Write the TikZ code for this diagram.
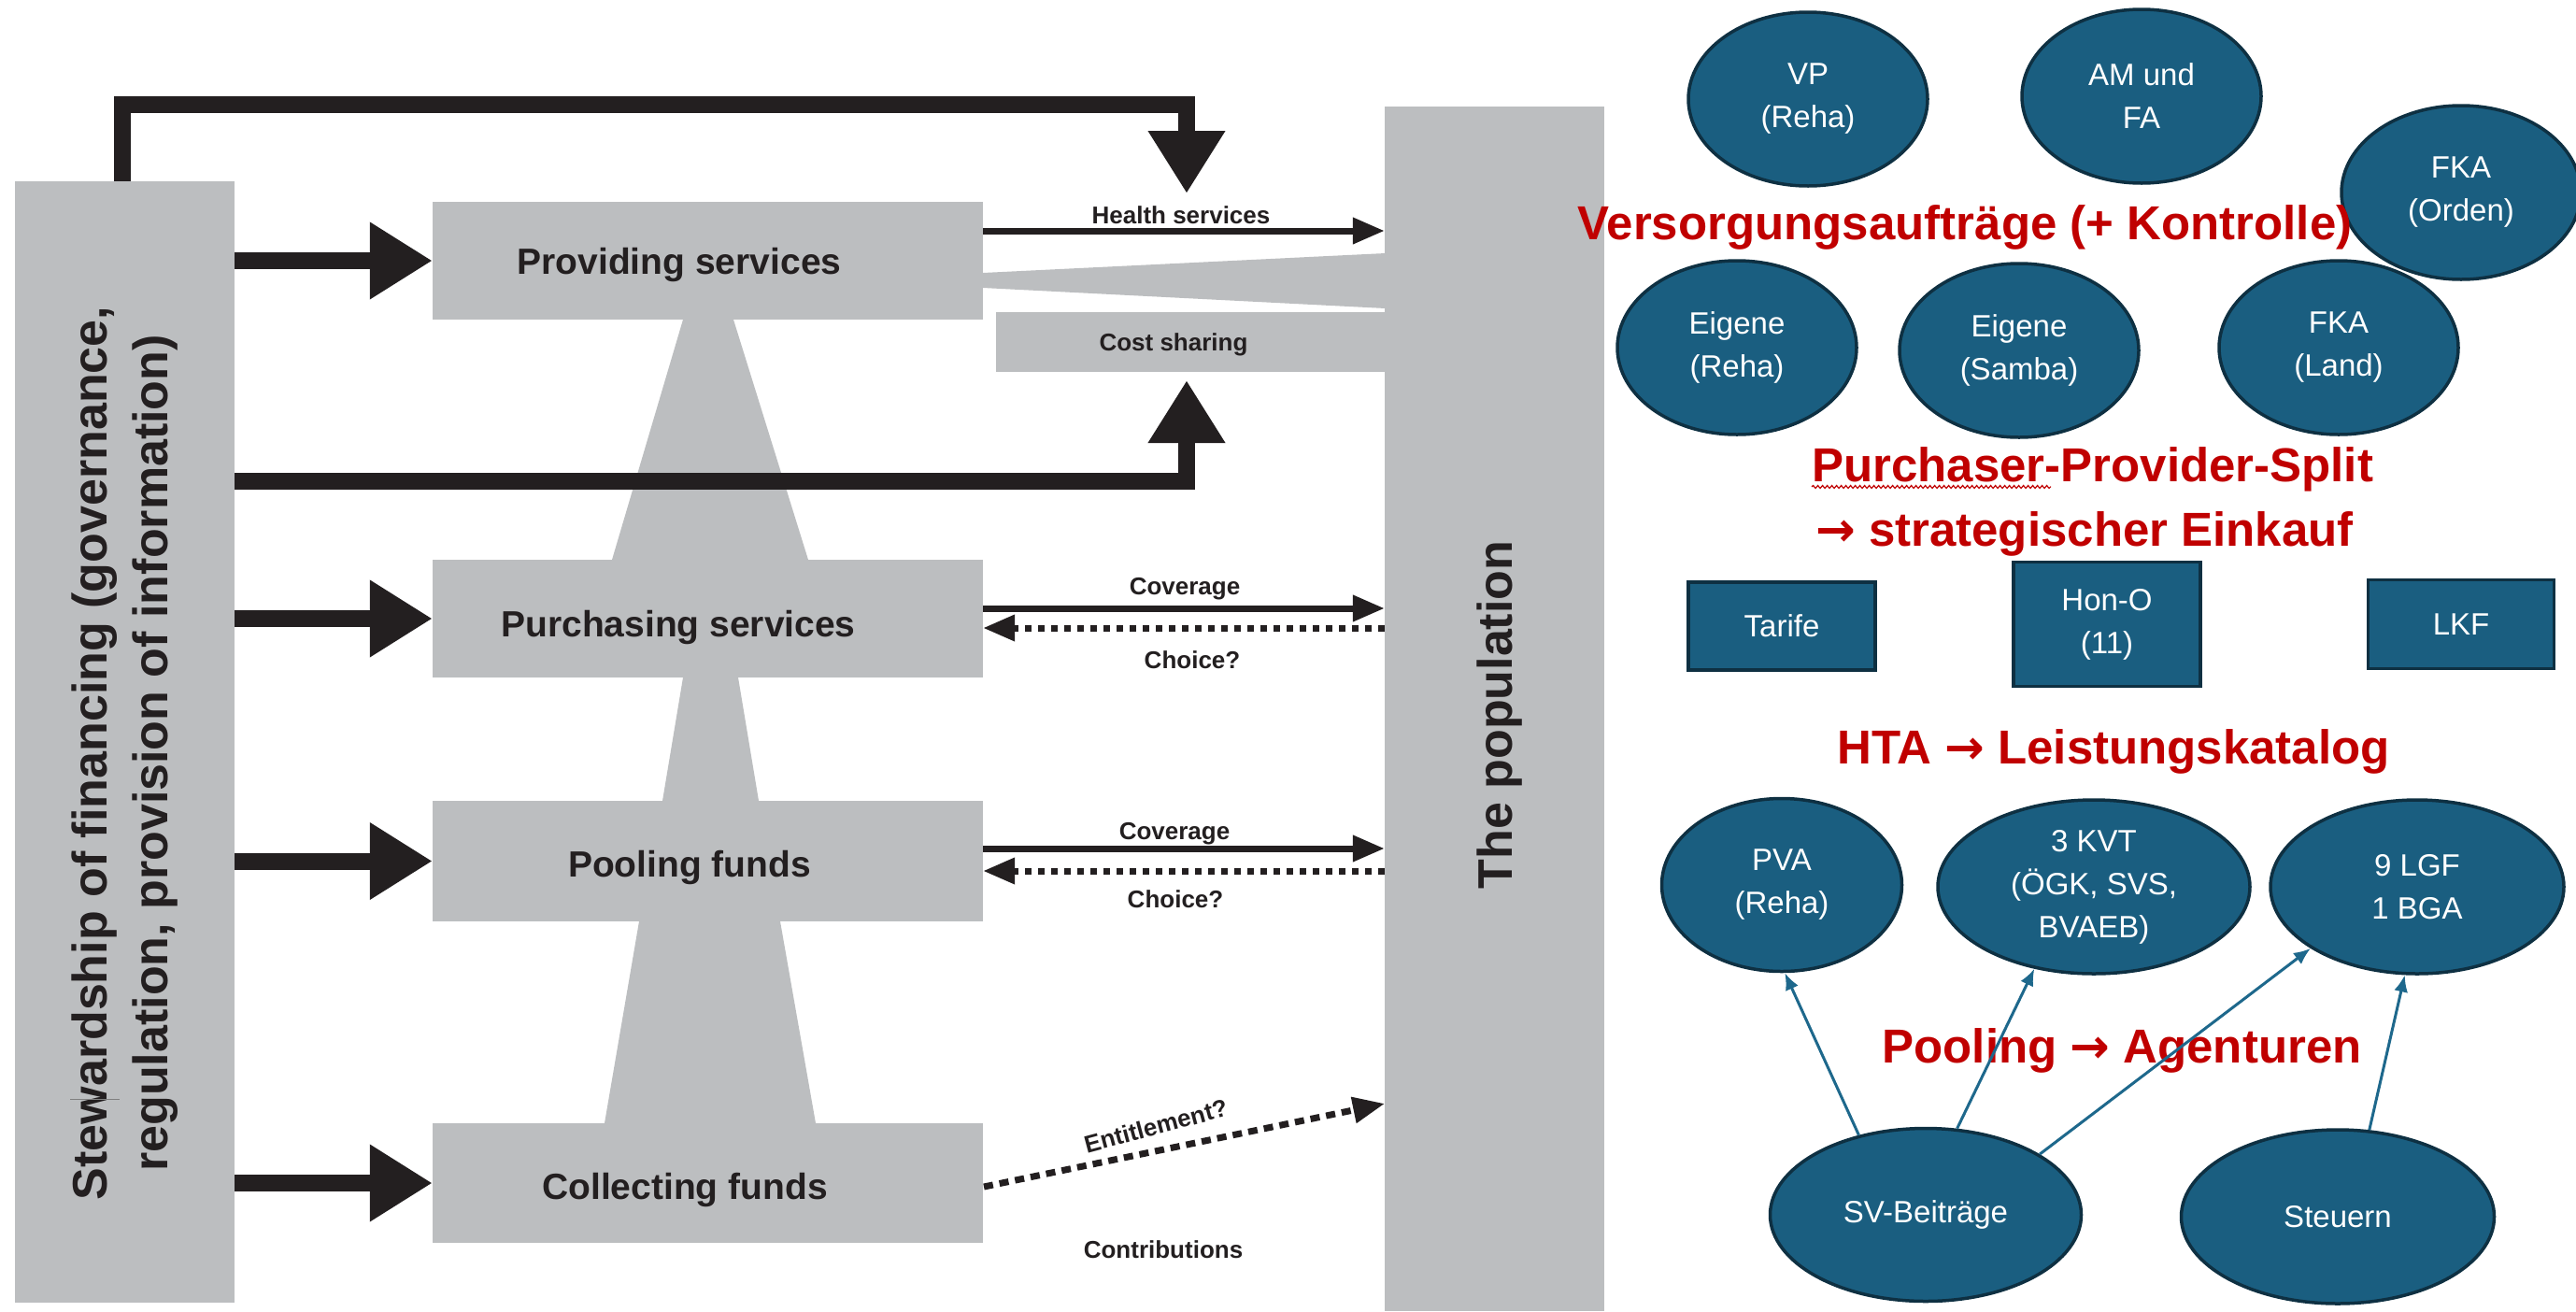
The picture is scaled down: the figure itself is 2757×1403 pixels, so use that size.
\documentclass[tikz,border=0pt]{standalone}
\usepackage{fontspec}
\setmainfont{Liberation Sans}
\newfontfamily\arrowfont{DejaVu Sans}
\newcommand{\bigarr}{{\arrowfont\bfseries →}}
\usetikzlibrary{arrows.meta,shapes.geometric,decorations.pathmorphing}
\definecolor{boxgray}{RGB}{188,190,192}
\definecolor{ink}{RGB}{35,31,32}
\definecolor{tealfill}{RGB}{26,94,128}
\definecolor{tealline}{RGB}{14,48,66}
\definecolor{tealarrow}{RGB}{30,104,140}
\definecolor{redtxt}{RGB}{192,0,0}
\begin{document}
\begin{tikzpicture}[x=1pt,y=-1pt,
  graybox/.style={rectangle, fill=boxgray, draw=none, inner sep=0pt},
  boxlabel/.style={font=\bfseries\fontsize{39}{47}\selectfont, text=ink, inner sep=0pt, anchor=base},
  smalllabel/.style={font=\bfseries\fontsize{26}{31}\selectfont, text=ink, inner sep=0pt, anchor=base},
  biglabel/.style={font=\bfseries\fontsize{52}{65}\selectfont, text=ink, inner sep=0pt, align=center, rotate=90},
  bigarrow/.style={draw=ink, line width=18pt, line join=miter, -{Triangle[length=67pt,width=78pt]}},
  thinarrow/.style={draw=ink, line width=7pt, -{Triangle[length=34pt,width=27pt]}},
  dasharrow/.style={thinarrow, dash pattern=on 7pt off 7pt},
  oval/.style={ellipse, draw=tealline, line width=3.5pt, fill=tealfill, text=white, inner sep=0pt,
    align=center, font=\fontsize{33}{46}\selectfont},
  tbox/.style={rectangle, draw=tealline, line width=3.5pt, fill=tealfill, text=white, inner sep=0pt,
    align=center, font=\fontsize{33}{46}\selectfont},
  redlabel/.style={font=\bfseries\fontsize{51}{69}\selectfont, text=redtxt, inner sep=0pt, anchor=base},
  tarrow/.style={draw=tealarrow, line width=3pt, -{Latex[length=18pt,width=15pt]}}
]
\fill[white] (0,0) rectangle (2757,1403);
\useasboundingbox (0,0) rectangle (2757,1403);

% ---------- left diagram: gray shapes ----------
\node[graybox, minimum width=235pt, minimum height=1200pt] (stew) at (133.5,794) {};
\node[graybox, minimum width=235pt, minimum height=1289pt] (pop) at (1599.5,758.5) {};
\node[graybox, minimum width=589pt, minimum height=126pt] (prov) at (757.5,279) {};
\node[graybox, minimum width=589pt, minimum height=126pt] (purch) at (757.5,662) {};
\node[graybox, minimum width=589pt, minimum height=129pt] (pool) at (757.5,921.5) {};
\node[graybox, minimum width=589pt, minimum height=128pt] (coll) at (757.5,1266) {};
\node[graybox, minimum width=417pt, minimum height=64pt] (cost) at (1274.5,366) {};

\fill[boxgray] (1052,292) -- (1483,271) -- (1483,330) -- (1052,308) -- cycle;
\fill[boxgray] (731,342) -- (785,342) -- (865,599) -- (655,599) -- cycle;
\fill[boxgray] (731,725) -- (790,725) -- (812,857) -- (709,857) -- cycle;
\fill[boxgray] (684,986) -- (835,986) -- (873,1202) -- (647,1202) -- cycle;

% ---------- left diagram: texts ----------
\node[biglabel] (stewtxt) at (133.5,806) {Stewardship of financing (governance,\\regulation, provision of information)};
\draw[gray, line width=1pt] (75,1176) -- (128,1176);
\node[biglabel] (poptxt) at (1605,765) {The population};

\node[boxlabel] (provtxt) at (727,293) {Providing services};
\node[boxlabel] (purchtxt) at (726,681) {Purchasing services};
\node[boxlabel] (pooltxt) at (738,938) {Pooling funds};
\node[boxlabel] (colltxt) at (733,1283) {Collecting funds};

\node[smalllabel] (hstxt) at (1264,239) {Health services};
\node[smalllabel] (costtxt) at (1256,375) {Cost sharing};
\node[smalllabel] (cov1) at (1268,636) {Coverage};
\node[smalllabel] (cho1) at (1276,715) {Choice?};
\node[smalllabel] (cov2) at (1257,898) {Coverage};
\node[smalllabel] (cho2) at (1258,971) {Choice?};
\node[smalllabel, anchor=center, rotate=15] (enttxt) at (1237,1205) {Entitlement?};
\node[smalllabel] (contxt) at (1245,1346) {Contributions};

% ---------- left diagram: arrows ----------
\coordinate (tipA) at (1270,207);
\coordinate (tipB) at (1270,407);
\coordinate (yB) at (0,515);
\coordinate (yHS) at (0,247);
\coordinate (yC1) at (0,651);
\coordinate (yD1) at (0,672);
\coordinate (yC2) at (0,908);
\coordinate (yD2) at (0,932);
\coordinate (entS) at (1053,1270);
\coordinate (entT) at (1482,1181);

\draw[bigarrow] ([xshift=-2.5pt]stew.north) -- ++(0,-82) -| (tipA);
\draw[bigarrow] (stew.east |- yB) -| (tipB);
\draw[bigarrow] (stew.east |- prov.west) -- (prov.west);
\draw[bigarrow] (stew.east |- purch.west) -- (purch.west);
\draw[bigarrow] (stew.east |- pool.west) -- (pool.west);
\draw[bigarrow] (stew.east |- coll.west) -- (coll.west);

\draw[thinarrow] (prov.east |- yHS) -- (pop.west |- yHS);
\draw[thinarrow] (purch.east |- yC1) -- (pop.west |- yC1);
\draw[dasharrow] (pop.west |- yD1) -- (purch.east |- yD1);
\draw[thinarrow] (pool.east |- yC2) -- (pop.west |- yC2);
\draw[dasharrow] (pop.west |- yD2) -- (pool.east |- yD2);
\draw[thinarrow, dash pattern=on 10pt off 7pt] (entS) -- (entT);

% ---------- right side ----------
\node[oval, minimum width=256pt, minimum height=186pt] (vp) at (1935,106) {VP\\(Reha)};
\node[oval, minimum width=256pt, minimum height=186pt] (am) at (2292,103) {AM und\\FA};
\node[oval, minimum width=256pt, minimum height=186pt] (fkao) at (2634,206) {FKA\\(Orden)};
\node[oval, minimum width=256pt, minimum height=186pt] (eigr) at (1859,372) {Eigene\\(Reha)};
\node[oval, minimum width=256pt, minimum height=186pt] (eigs) at (2161,375) {Eigene\\(Samba)};
\node[oval, minimum width=256pt, minimum height=186pt] (fkal) at (2503,372) {FKA\\(Land)};

\node[tbox, minimum width=200pt, minimum height=94pt] (tarife) at (1907,670) {Tarife};
\node[tbox, minimum width=200pt, minimum height=133pt] (hono) at (2255,668) {Hon-O\\(11)};
\node[tbox, minimum width=199pt, minimum height=95pt] (lkf) at (2634,668) {LKF};

\node[oval, minimum width=257pt, minimum height=185pt] (pva) at (1907,947) {PVA\\(Reha)};
\node[oval, minimum width=334pt, minimum height=186pt] (kvt) at (2241,949) {3 KVT\\(ÖGK, SVS,\\BVAEB)};
\node[oval, minimum width=314pt, minimum height=186pt] (lgf) at (2587,949) {9 LGF\\1 BGA};
\node[oval, minimum width=333pt, minimum height=185pt] (sv) at (2061,1300) {SV-Beiträge};
\node[oval, minimum width=335pt, minimum height=186pt] (steuern) at (2502,1302) {Steuern};

\node[redlabel] (vers) at (2103,256) {Versorgungsaufträge (+ Kontrolle)};
\node[redlabel, anchor=base west] (pps1) at (1939,515) {Purchaser-Provider-Split};
\draw[redtxt, line width=1.2pt, decorate, decoration={snake, amplitude=1.5pt, segment length=5pt}] (1939,521) -- (2195,521);
\node[redlabel, anchor=base west] (pps2) at (1943,584) {\bigarr\ strategischer Einkauf};
\node[redlabel] (hta) at (2262,817) {HTA \bigarr\ Leistungskatalog};
\node[redlabel] (poolag) at (2271,1137) {Pooling \bigarr\ Agenturen};

\draw[tarrow] (sv.130) -- (pva.272);
\draw[tarrow] (sv.70) -- (kvt.234);
\draw[tarrow] (sv.28) -- (lgf.210);
\draw[tarrow] (steuern.70) -- (lgf.262);
\end{tikzpicture}
\end{document}
